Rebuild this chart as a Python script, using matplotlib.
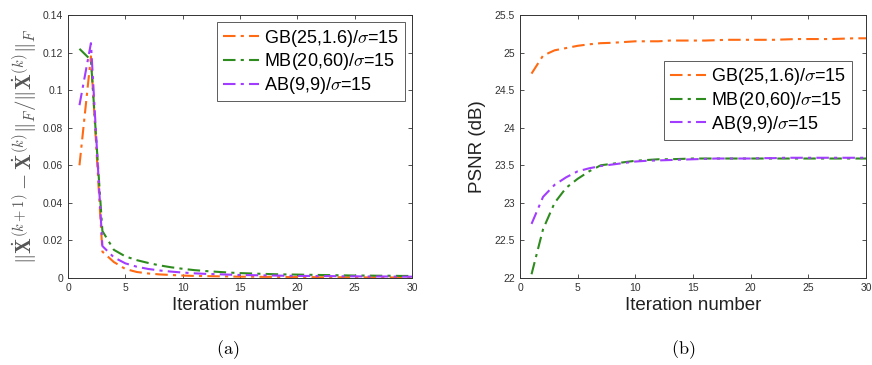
import matplotlib
matplotlib.use("Agg")
import matplotlib.pyplot as plt

plt.rcParams["font.family"] = ["Liberation Sans", "DejaVu Sans"]
plt.rcParams["mathtext.fontset"] = "cm"

iters = list(range(1, 31))

# (a) relative change per iteration
gb_rel = [0.060, 0.118, 0.014, 0.0085, 0.0048, 0.0032, 0.0024, 0.0019, 0.0016, 0.0013,
          0.0011, 0.0010, 0.0009, 0.0008, 0.0007, 0.0007, 0.0006, 0.0006, 0.0005, 0.0005,
          0.0005, 0.0004, 0.0004, 0.0004, 0.0004, 0.0003, 0.0003, 0.0003, 0.0003, 0.0003]
mb_rel = [0.122, 0.116, 0.025, 0.015, 0.0115, 0.0095, 0.0080, 0.0067, 0.0057, 0.0049,
          0.0042, 0.0037, 0.0033, 0.0029, 0.0026, 0.0024, 0.0022, 0.0020, 0.0019, 0.0018,
          0.0017, 0.0016, 0.0015, 0.0014, 0.0013, 0.0013, 0.0012, 0.0012, 0.0011, 0.0011]
ab_rel = [0.092, 0.125, 0.017, 0.011, 0.0078, 0.0060, 0.0048, 0.0040, 0.0034, 0.0029,
          0.0025, 0.0022, 0.0020, 0.0018, 0.0016, 0.0015, 0.0014, 0.0013, 0.0012, 0.0011,
          0.0011, 0.0010, 0.0010, 0.0009, 0.0009, 0.0008, 0.0008, 0.0008, 0.0007, 0.0007]

# (b) PSNR per iteration
gb_psnr = [24.72, 24.96, 25.03, 25.06, 25.09, 25.11, 25.125, 25.13, 25.14, 25.15,
           25.15, 25.15, 25.16, 25.16, 25.16, 25.16, 25.165, 25.17, 25.17, 25.17,
           25.17, 25.17, 25.175, 25.18, 25.18, 25.18, 25.18, 25.185, 25.19, 25.19]
mb_psnr = [22.05, 22.65, 23.00, 23.20, 23.32, 23.42, 23.50, 23.52, 23.54, 23.56,
           23.57, 23.58, 23.58, 23.585, 23.59, 23.59, 23.59, 23.59, 23.59, 23.59,
           23.59, 23.59, 23.59, 23.59, 23.59, 23.59, 23.59, 23.59, 23.59, 23.59]
ab_psnr = [22.72, 23.08, 23.24, 23.34, 23.42, 23.46, 23.49, 23.51, 23.53, 23.55,
           23.56, 23.565, 23.57, 23.575, 23.58, 23.585, 23.59, 23.59, 23.59, 23.59,
           23.595, 23.595, 23.6, 23.6, 23.6, 23.6, 23.6, 23.6, 23.6, 23.6]

labels = [r"GB(25,1.6)/$\sigma$=15", r"MB(20,60)/$\sigma$=15", r"AB(9,9)/$\sigma$=15"]
colors = ["#FF6A13", "#2E8B1E", "#A23CFF"]
ls = (0, (6, 2.5, 1.5, 2.5))

fig = plt.figure(figsize=(8.72, 3.65), dpi=100)
ax1 = fig.add_axes([68 / 872, 1 - 278 / 365, 344 / 872, 263 / 365])
ax2 = fig.add_axes([520 / 872, 1 - 278 / 365, 346 / 872, 263 / 365])


def style(ax):
    ax.set_xlim(0, 30)
    ax.set_xticks(range(0, 31, 5))
    ax.tick_params(direction="in", top=True, right=True, labelsize=7.5,
                   length=3, width=0.6, colors="#333333", labelcolor="#333333")
    for s in ax.spines.values():
        s.set_linewidth(0.7)
        s.set_color("#333333")
    ax.set_xlabel("Iteration number", fontsize=13.5, color="#222222", labelpad=3)


for ys, c, lab in zip([gb_rel, mb_rel, ab_rel], colors, labels):
    ax1.plot(iters, ys, color=c, lw=1.5, linestyle=ls, label=lab)
style(ax1)
ax1.set_ylim(0, 0.14)
ax1.set_yticks([0, 0.02, 0.04, 0.06, 0.08, 0.1, 0.12, 0.14])
ax1.set_yticklabels(["0", "0.02", "0.04", "0.06", "0.08", "0.1", "0.12", "0.14"])
ax1.set_ylabel(r"$\|\dot{\mathbf{X}}^{(k+1)}-\dot{\mathbf{X}}^{(k)}\|_F/\|\dot{\mathbf{X}}^{(k)}\|_F$",
               fontsize=15, color="#555555", labelpad=2)
leg1 = ax1.legend(loc="upper right", fontsize=13, handlelength=2.0, handletextpad=0.3,
                  borderpad=0.3, labelspacing=0.15, fancybox=False, edgecolor="#333333",
                  borderaxespad=0.4)
leg1.get_frame().set_linewidth(0.7)

for ys, c, lab in zip([gb_psnr, mb_psnr, ab_psnr], colors, labels):
    ax2.plot(iters, ys, color=c, lw=1.5, linestyle=ls, label=lab)
style(ax2)
ax2.set_ylim(22, 25.5)
ax2.set_yticks([22, 22.5, 23, 23.5, 24, 24.5, 25, 25.5])
ax2.set_yticklabels(["22", "22.5", "23", "23.5", "24", "24.5", "25", "25.5"])
ax2.set_ylabel("PSNR (dB)", fontsize=13.5, color="#222222", labelpad=6)
leg2 = ax2.legend(loc="upper right", bbox_to_anchor=(0.985, 0.86), fontsize=13,
                  handlelength=2.0, handletextpad=0.3, borderpad=0.3, labelspacing=0.15,
                  fancybox=False, edgecolor="#333333")
leg2.get_frame().set_linewidth(0.7)

fig.text(228 / 872, 1 - 350 / 365, r"$\mathrm{(a)}$", ha="center", va="center", fontsize=13)
fig.text(683 / 872, 1 - 350 / 365, r"$\mathrm{(b)}$", ha="center", va="center", fontsize=13)

fig.savefig("out.png", dpi=100)
